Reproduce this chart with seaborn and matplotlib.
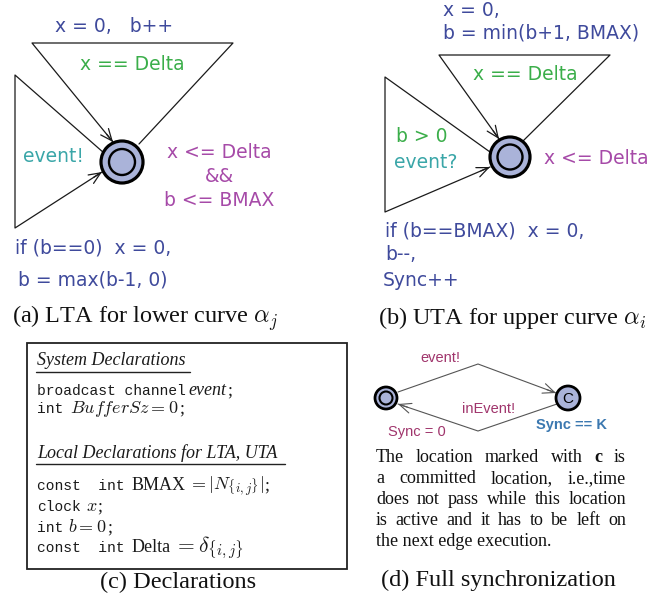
import matplotlib
matplotlib.use("Agg")
import matplotlib.pyplot as plt
import seaborn as sns
from matplotlib.patches import Circle, Rectangle

# ---------------- data (texts) ----------------
lta_update_top = "x = 0,   b++"
lta_guard_top = "x == Delta"
lta_sync_left = "event!"
lta_invariant = ["x <= Delta", "&&", "b <= BMAX"]
lta_update_left = ["if (b==0)  x = 0,", "b = max(b-1, 0)"]

uta_update_top = ["x = 0,", "b = min(b+1, BMAX)"]
uta_guard_top = "x == Delta"
uta_guard_left = "b > 0"
uta_sync_left = "event?"
uta_invariant = "x <= Delta"
uta_update_left = ["if (b==BMAX)  x = 0,", "b--,", "Sync++"]

captions = [r"(a) LTA for lower curve $\alpha_j$",
            r"(b) UTA for upper curve $\alpha_i$",
            "(c) Declarations",
            "(d) Full synchronization"]

decl_headers = ["System Declarations", "Local Declarations for LTA, UTA"]

sync_labels = ["event!", "inEvent!", "Sync = 0", "Sync == K", "C"]
note_lines = ["The location marked with c is",
              "a committed location, i.e.,time",
              "does not pass while this location",
              "is active and it has to be left on",
              "the next edge execution."]

# ---------------- style ----------------
sns.set_theme(style="white")
plt.rcParams["font.family"] = ["DejaVu Sans"]
plt.rcParams["mathtext.fontset"] = "cm"

BLUE = "#3f4a9c"
GREEN = "#3bae4a"
TEAL = "#3aa6a8"
MAGENTA = "#a64aa8"
NODE = "#aab3d9"
MAROON = "#a0356c"
SYNCBLUE = "#3b78b0"
SANS = "DejaVu Sans"
SERIF = "Liberation Serif"
MONO = "Liberation Mono"

W, H = 667, 599
fig = plt.figure(figsize=(W / 100, H / 100), dpi=100)
ax = fig.add_axes([0, 0, 1, 1])
ax.set_xlim(0, W)
ax.set_ylim(H, 0)
ax.axis("off")
fig.patch.set_facecolor("white")
R = fig.canvas.get_renderer()


def node(cx, cy, r_out, r_in, lw_out=2.3, lw_in=1.7):
    ax.add_patch(Circle((cx, cy), r_out, facecolor=NODE, edgecolor="black", lw=lw_out, zorder=5))
    if r_in:
        ax.add_patch(Circle((cx, cy), r_in, facecolor="none", edgecolor="black", lw=lw_in, zorder=6))


def edge(pts, color="#1a1a1a", lw=0.9, head=True):
    xs = [p[0] for p in pts]
    ys = [p[1] for p in pts]
    ax.plot(xs, ys, color=color, lw=lw, solid_joinstyle="round", solid_capstyle="round", zorder=3)
    if head:
        (x0, y0), (x1, y1) = pts[-2], pts[-1]
        dx, dy = x1 - x0, y1 - y0
        d = (dx * dx + dy * dy) ** 0.5
        start = (x1 - dx / d * 10, y1 - dy / d * 10)
        ax.annotate("", xy=(x1, y1), xytext=start,
                    arrowprops=dict(arrowstyle="->,head_length=0.7,head_width=0.3",
                                    color=color, lw=lw, shrinkA=0, shrinkB=0), zorder=4)


def txt(x, y, s, color, size=13.5, ha="left", family=SANS, **kw):
    return ax.text(x, y, s, color=color, fontsize=size, ha=ha, va="center", family=family, **kw)


# ================= panel (a) =================
node(122, 162, 21, 13)
edge([(139, 144), (233, 43), (32, 43), (113, 142)])
edge([(104, 153), (15, 75), (15, 228), (102, 172)])

txt(55, 26, lta_update_top, BLUE)
txt(80, 65, lta_guard_top, GREEN)
txt(23, 157, lta_sync_left, TEAL)
for s, yy in zip(lta_invariant, [152, 176, 200]):
    txt(219, yy, s, MAGENTA, ha="center")
txt(15, 248, lta_update_left[0], BLUE)
txt(18, 280, lta_update_left[1], BLUE)

# ================= panel (b) =================
node(510, 157, 20, 12.5)
edge([(523, 141), (610, 55), (439, 55), (499, 139)])
edge([(490, 152), (385, 77), (385, 212), (490, 167)])

txt(443, 10, uta_update_top[0], BLUE)
txt(443, 33, uta_update_top[1], BLUE)
txt(473, 74, uta_guard_top, GREEN)
txt(396, 137, uta_guard_left, GREEN)
txt(394, 162, uta_sync_left, TEAL)
txt(544, 159, uta_invariant, MAGENTA)
txt(385, 231, uta_update_left[0], BLUE)
txt(385, 255, uta_update_left[1], BLUE)
txt(383, 281, uta_update_left[2], BLUE)

# ================= captions =================
cap_kw = dict(fontsize=17.5, family=SERIF, color="#111111", va="center")
ax.text(12, 318, captions[0], ha="left", **cap_kw)
ax.text(378, 318, captions[1], ha="left", **cap_kw)
ax.text(178, 582, captions[2], ha="center", **cap_kw)
ax.text(498, 580, captions[3], ha="center", **cap_kw)

# ================= panel (c) declarations =================
ax.add_patch(Rectangle((27, 343), 320, 226, facecolor="none", edgecolor="#222222", lw=1.3, zorder=2))


def runs(x, y, parts):
    for s, props, gap in parts:
        t = ax.text(x, y, s, va="baseline", ha="left", color="#1a1a1a", **props)
        x += t.get_window_extent(R).width + gap


mono = dict(family=MONO, fontsize=10.5)
serif = dict(family=SERIF, fontsize=13)
serif_i = dict(family=SERIF, fontsize=13, style="italic")
math = dict(fontsize=13)
math_big = dict(fontsize=15.5)

ax.text(37, 365, decl_headers[0], va="baseline", ha="left", color="#1a1a1a", **serif_i)
ax.plot([36, 190], [372, 372], color="#222222", lw=1.0)
runs(37, 395, [("broadcast channel", mono, 3), ("event", serif_i, 0), (";", serif, 0)])
runs(37, 413, [("int", mono, 7), (r"$BufferSz = 0$", math, 0), (";", serif, 0)])

ax.text(37, 458, decl_headers[1], va="baseline", ha="left", color="#1a1a1a", **serif_i)
ax.plot([36, 285], [464, 464], color="#222222", lw=1.0)
runs(37, 490, [("const  int", mono, 7), ("BMAX", serif, 3), (r"$= |N_{\{i,j\}}|$", math, 0), (";", serif, 0)])
runs(37, 511, [("clock", mono, 5), (r"$x$", math, 0), (";", serif, 0)])
runs(37, 532, [("int", mono, 5), (r"$b = 0$", math, 0), (";", serif, 0)])
runs(37, 552, [("const  int", mono, 7), ("Delta", serif, 3), (r"$= \delta_{\{i,j\}}$", math_big, 0)])

# ================= panel (d) full synchronization =================
node(386, 398, 11, 6.5, lw_out=2.0, lw_in=1.5)
node(568, 398, 12, 0, lw_out=2.0)
ax.text(568, 399, sync_labels[4], ha="center", va="center", family="Liberation Sans",
        fontsize=11, color="black", zorder=7)
GREY = "#555555"
edge([(398, 392), (478, 364), (556, 393)], color=GREY, lw=0.8)
edge([(557, 404), (478, 431), (398, 404)], color=GREY, lw=0.8)

dkw = dict(family="Liberation Sans", fontsize=10.5, va="center", ha="left")
ax.text(420, 358, sync_labels[0], color=MAROON, **dkw)
ax.text(462, 409, sync_labels[1], color=MAROON, **dkw)
ax.text(388, 432, sync_labels[2], color=MAROON, **dkw)
ax.text(536, 425, sync_labels[3], color=SYNCBLUE, fontweight="bold", **dkw)


def justify(lines, x0, x1, y0, dy, **props):
    for i, line in enumerate(lines):
        y = y0 + i * dy
        words = line.split()
        if i == len(lines) - 1:
            ax.text(x0, y, line, va="baseline", ha="left", **props)
            continue
        ts = [ax.text(0, y, w, va="baseline", ha="left", **props) for w in words]
        ws = [t.get_window_extent(R).width for t in ts]
        gap = (x1 - x0 - sum(ws)) / (len(words) - 1)
        x = x0
        for t, w, word in zip(ts, ws, words):
            t.set_x(x)
            if word == "c":
                t.set_fontweight("bold")
            x += w + gap


justify(note_lines, 376, 626, 462, 21, family=SERIF, fontsize=13, color="#111111")

fig.savefig("out.png", dpi=100, facecolor="white")
